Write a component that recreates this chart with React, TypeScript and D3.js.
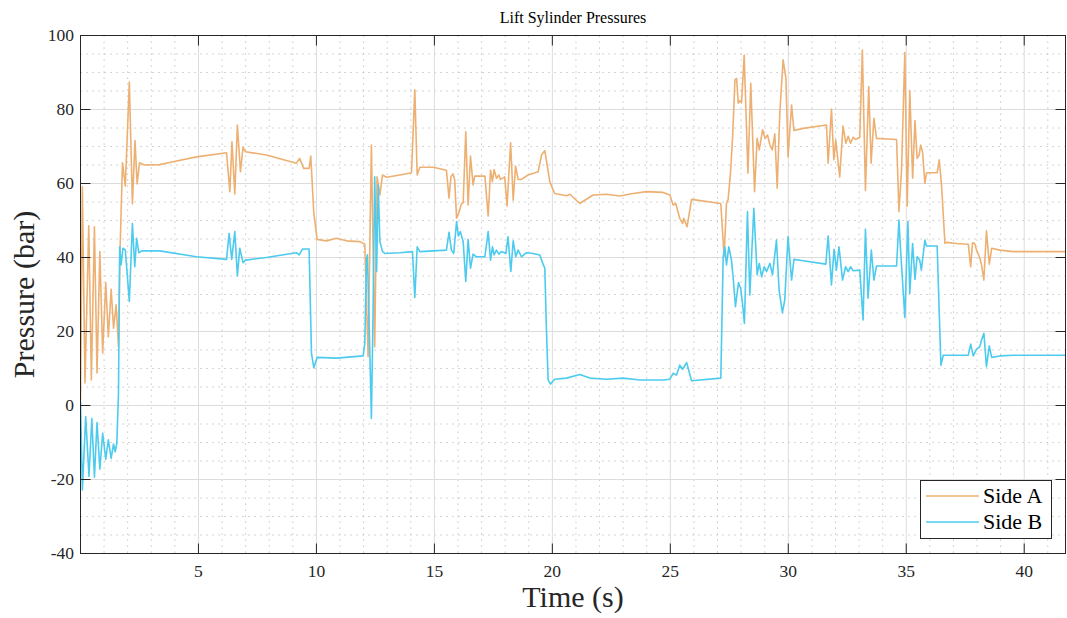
import * as d3 from 'd3';

// time (s) / pressure (bar) keypoints
const timeA = [0, 0.08, 0.19, 0.35, 0.46, 0.59, 0.7, 0.82, 0.94, 1.07, 1.18, 1.3, 1.4, 1.51, 1.61, 1.68, 1.78, 1.9, 2.07, 2.2, 2.31, 2.4, 2.5, 2.71, 3.36, 3.92, 4.92, 6.19, 6.33, 6.42, 6.54, 6.65, 6.78, 6.89, 6.99, 7.88, 9.15, 9.29, 9.46, 9.69, 9.76, 9.89, 10.03, 10.42, 10.85, 11.27, 11.84, 12.05, 12.19, 12.33, 12.47, 12.57, 12.69, 12.8, 12.97, 13.53, 14.03, 14.17, 14.27, 14.38, 14.95, 15.51, 15.62, 15.7, 15.79, 15.86, 15.94, 16.05, 16.15, 16.22, 16.33, 16.43, 16.53, 16.64, 16.71, 17.14, 17.28, 17.38, 17.46, 17.53, 17.63, 17.73, 17.8, 17.98, 18.08, 18.23, 18.34, 18.44, 18.55, 18.69, 18.97, 19.4, 19.54, 19.68, 19.78, 19.89, 20.1, 20.6, 20.74, 21.16, 21.73, 22.29, 22.86, 23.42, 23.99, 24.69, 24.98, 25.12, 25.23, 25.4, 25.52, 25.57, 25.71, 25.9, 27.14, 27.28, 27.38, 27.45, 27.55, 27.64, 27.74, 27.81, 27.88, 27.95, 28.02, 28.13, 28.29, 28.41, 28.57, 28.68, 28.77, 28.91, 29.02, 29.12, 29.22, 29.32, 29.43, 29.53, 29.64, 29.78, 29.9, 29.99, 30.14, 30.24, 30.63, 31.62, 31.69, 31.83, 31.93, 32.01, 32.18, 32.32, 32.44, 32.54, 32.64, 32.75, 32.85, 33.03, 33.14, 33.27, 33.41, 33.51, 33.63, 33.74, 34.59, 34.69, 34.8, 34.94, 35.04, 35.15, 35.27, 35.37, 35.46, 35.55, 35.61, 35.69, 35.79, 35.86, 36.31, 36.4, 36.5, 36.64, 36.71, 37.13, 37.63, 37.73, 37.81, 37.9, 37.98, 38.12, 38.19, 38.29, 38.4, 38.52, 38.62, 38.97, 39.53, 40.95, 41.75];
const sideA = [1.5, 59.1, 6.1, 48.6, 6.9, 48.3, 8.8, 41.6, 14.2, 33.2, 18.5, 31.4, 20.9, 27.2, 15.9, 42.9, 65.6, 59.3, 87.4, 54.5, 71.6, 59.9, 65.6, 65, 65.1, 65.9, 67.2, 68.3, 57.8, 71.3, 57.2, 75.8, 63.2, 69.8, 68.6, 67.7, 65.5, 66.8, 64.1, 64.1, 67.4, 51.9, 44.9, 44.5, 45.2, 44.5, 44.3, 43.6, 13.2, 70.4, 15.9, 61.8, 56.9, 62.3, 61.7, 62.3, 62.9, 85.3, 62.3, 64.4, 64.4, 63.6, 56, 61.8, 62.6, 61, 50.6, 52.4, 54.6, 54.8, 74, 54.2, 67.4, 59.6, 62, 62, 51.2, 63.6, 60.5, 63.8, 61.4, 62.3, 61.1, 61.8, 53.9, 71, 55.5, 64.7, 61.1, 61.1, 62.3, 63.2, 67.7, 68.9, 65, 60.5, 57.3, 56.7, 57.1, 54.6, 56.9, 57.1, 56.6, 57.3, 57.8, 57.6, 56.9, 54.2, 54.6, 50.6, 49.2, 50.6, 48.3, 55.7, 54.6, 40.2, 54.6, 55.7, 62.8, 72.7, 88, 88.4, 81.7, 82.4, 81.8, 94.7, 62.8, 87.1, 57.8, 72.2, 69.1, 74.5, 72.2, 73.1, 70.4, 69.1, 73.4, 58.7, 79, 93.4, 88.4, 67.2, 81.2, 74.3, 74.9, 75.8, 65.5, 80.1, 66.4, 71.8, 61.8, 75.5, 70.9, 72.8, 70.9, 72.5, 71.9, 72.5, 96.1, 58.1, 86.2, 65.5, 77.6, 72.2, 71.9, 52.4, 63.6, 95.4, 53.9, 85.1, 61.4, 77, 66.8, 67.7, 70.4, 68.6, 60, 62.9, 62.9, 66.4, 59.1, 43.8, 44.1, 43.8, 43.6, 37.5, 44, 43.8, 42, 39.8, 38, 33.9, 47.2, 38.2, 42.5, 42, 41.6, 41.6, 41.6];

const timeB = [0, 0.08, 0.22, 0.36, 0.48, 0.59, 0.7, 0.82, 0.94, 1.07, 1.18, 1.3, 1.4, 1.47, 1.54, 1.61, 1.66, 1.72, 1.8, 1.9, 2.07, 2.2, 2.3, 2.38, 2.47, 2.6, 3.36, 4.91, 6.19, 6.3, 6.41, 6.54, 6.65, 6.75, 6.89, 6.99, 7.88, 9.15, 9.27, 9.41, 9.69, 9.79, 9.89, 10.03, 10.85, 11.98, 12.05, 12.12, 12.16, 12.23, 12.33, 12.4, 12.47, 12.55, 12.62, 12.69, 12.8, 12.9, 13.53, 14.07, 14.17, 14.27, 14.38, 14.95, 15.51, 15.62, 15.72, 15.82, 15.94, 16.02, 16.1, 16.22, 16.33, 16.43, 16.53, 16.64, 16.78, 17.14, 17.28, 17.38, 17.46, 17.53, 17.63, 17.73, 17.84, 18.03, 18.12, 18.24, 18.34, 18.45, 18.55, 18.69, 18.9, 19.18, 19.47, 19.58, 19.68, 19.75, 19.82, 19.92, 20.1, 20.6, 21.16, 21.59, 22.29, 23.0, 23.71, 24.69, 24.98, 25.12, 25.26, 25.4, 25.52, 25.69, 25.76, 25.9, 27.14, 27.24, 27.31, 27.38, 27.48, 27.59, 27.66, 27.76, 27.89, 27.98, 28.06, 28.14, 28.27, 28.37, 28.54, 28.68, 28.77, 28.87, 28.98, 29.08, 29.22, 29.33, 29.5, 29.61, 29.75, 29.85, 29.99, 30.14, 30.24, 30.63, 31.59, 31.69, 31.83, 31.94, 32.04, 32.15, 32.3, 32.43, 32.54, 32.64, 32.75, 33.03, 33.17, 33.27, 33.38, 33.52, 33.63, 33.74, 34.59, 34.69, 34.76, 34.94, 35.07, 35.15, 35.27, 35.37, 35.46, 35.57, 35.64, 35.79, 35.86, 36.31, 36.4, 36.47, 36.57, 37.13, 37.63, 37.73, 37.84, 37.98, 38.12, 38.19, 38.29, 38.4, 38.52, 38.62, 38.97, 39.53, 41.75];
const sideB = [1, -22.8, -3, -19.2, -3.5, -19.4, -4.6, -17.2, -7.5, -14.5, -9.3, -14.3, -10.4, -12.5, -10.2, 3.3, 42.9, 38, 42.5, 42, 28.1, 49.2, 37.5, 45.2, 41.3, 41.8, 41.8, 40.2, 39.5, 46.5, 39.5, 47, 35, 42.5, 38.6, 39.3, 40, 41.3, 40.7, 42.3, 42.3, 14.1, 10.2, 13, 12.8, 13.4, 16.8, 39.3, 40.7, 23.1, -3.5, 24.9, 61.8, 36.2, 59.6, 44.3, 41.6, 41.1, 41.3, 41.6, 29.2, 42.9, 41.6, 41.8, 42, 46.8, 42, 41.1, 49.7, 45.8, 47, 44.3, 33.5, 44.9, 37.1, 40.9, 40.2, 40.2, 47, 39.3, 42.9, 40.7, 42, 40.9, 41.6, 41.1, 45.6, 36.2, 44.5, 40.2, 42, 40.2, 41.3, 41.1, 40.7, 38.6, 37.1, 20.4, 6.9, 5.8, 7.1, 7.4, 8.4, 7.4, 7.1, 7.4, 6.9, 6.9, 7.1, 8.7, 8.2, 10.9, 9.8, 11.6, 10, 6.7, 7.4, 40.2, 42.9, 38, 42.9, 39.3, 34.8, 26.7, 33.2, 31.7, 27.6, 22.2, 52.4, 29.9, 53.3, 35.3, 38.4, 34.8, 37.5, 36.2, 38.4, 35.3, 44.7, 31.2, 25.1, 28.5, 45.6, 33.9, 39.5, 39.1, 38.2, 45.8, 32.6, 42.2, 36.6, 42.9, 33.9, 37.5, 36.2, 37.5, 36.4, 36.6, 23.1, 47.6, 29, 42, 33.9, 37.7, 37.7, 50.1, 42, 23.8, 49.7, 30.3, 43.8, 34.1, 40.2, 39.3, 36.6, 44.7, 43.1, 43.1, 24.9, 10.9, 13.6, 13.6, 13.6, 16.6, 13.4, 15.2, 15.9, 17.7, 19.5, 10.5, 16.1, 13, 13.4, 13.6, 13.6];

const xTicks = [5, 10, 15, 20, 25, 30, 35, 40];
const yTicks = [-40, -20, 0, 20, 40, 60, 80, 100];
const seriesNames = ['Side A', 'Side B'];
const seriesColors = ['#EDB072', '#4CCBEF'];

const W = 1067;
const H = 618;
const left = 80.5;
const right = 1065.5;
const top = 35.5;
const bottom = 553.5;
const font = '"Liberation Serif", "Times New Roman", serif';

export default function App() {
  const x = d3.scaleLinear().domain([0, 41.75]).range([left, right]);
  const y = d3.scaleLinear().domain([-40, 100]).range([bottom, top]);

  const xMinor = d3.range(1, 42).filter((v) => v % 5 !== 0);
  const yMinor = d3.range(-35, 100, 5).filter((v) => v % 20 !== 0);

  const line = d3
    .line<[number, number]>()
    .x((d) => x(d[0]))
    .y((d) => y(d[1]));

  const dataA = timeA.map((t, i) => [t, sideA[i]] as [number, number]);
  const dataB = timeB.map((t, i) => [t, sideB[i]] as [number, number]);

  return (
    <svg
      width={W}
      height={H}
      style={{ position: 'absolute', left: 0, top: 0, background: '#fff' }}
      fontFamily={font}
    >
      <rect x={0} y={0} width={W} height={H} fill='#fff' />
      <defs>
        <clipPath id='plot'>
          <rect x={left} y={top} width={right - left} height={bottom - top} />
        </clipPath>
      </defs>

      {/* minor grid */}
      <g stroke='#b8b8b8' strokeWidth={1} strokeDasharray='1.2,4.8'>
        {xMinor.map((v) => (
          <line key={'xm' + v} x1={x(v)} x2={x(v)} y1={top} y2={bottom} />
        ))}
        {yMinor.map((v) => (
          <line key={'ym' + v} x1={left} x2={right} y1={y(v)} y2={y(v)} />
        ))}
      </g>
      {/* major grid */}
      <g stroke='#dcdcdc' strokeWidth={1}>
        {xTicks.map((v) => (
          <line key={'xg' + v} x1={x(v)} x2={x(v)} y1={top} y2={bottom} />
        ))}
        {yTicks.map((v) => (
          <line key={'yg' + v} x1={left} x2={right} y1={y(v)} y2={y(v)} />
        ))}
      </g>

      <g clipPath='url(#plot)' fill='none' strokeWidth={1.6} strokeLinejoin='round'>
        <path d={line(dataA) ?? ''} stroke={seriesColors[0]} />
        <path d={line(dataB) ?? ''} stroke={seriesColors[1]} />
      </g>

      {/* box and ticks */}
      <rect x={left} y={top} width={right - left} height={bottom - top} fill='none' stroke='#262626' strokeWidth={1} />
      <g stroke='#262626' strokeWidth={1}>
        {xTicks.map((v) => (
          <g key={'xt' + v}>
            <line x1={x(v)} x2={x(v)} y1={bottom} y2={bottom - 10} />
            <line x1={x(v)} x2={x(v)} y1={top} y2={top + 10} />
          </g>
        ))}
        {yTicks.map((v) => (
          <g key={'yt' + v}>
            <line x1={left} x2={left + 10} y1={y(v)} y2={y(v)} />
            <line x1={right} x2={right - 10} y1={y(v)} y2={y(v)} />
          </g>
        ))}
      </g>
      <g fill='#262626' fontSize={17.5}>
        {xTicks.map((v) => (
          <text key={'xl' + v} x={x(v)} y={577} textAnchor='middle'>
            {v}
          </text>
        ))}
        {yTicks.map((v) => (
          <text key={'yl' + v} x={74} y={y(v) + 5.5} textAnchor='end'>
            {v}
          </text>
        ))}
      </g>

      <text x={(left + right) / 2} y={23} textAnchor='middle' fontSize={16} fill='#000'>
        Lift Sylinder Pressures
      </text>
      <text x={(left + right) / 2} y={607} textAnchor='middle' fontSize={30} fill='#262626'>
        Time (s)
      </text>
      <text
        transform={`translate(34, ${(top + bottom) / 2}) rotate(-90)`}
        textAnchor='middle'
        fontSize={30}
        fill='#262626'
      >
        Pressure (bar)
      </text>

      {/* legend */}
      <g>
        <rect x={920.5} y={480.5} width={131} height={58} fill='#fff' stroke='#262626' strokeWidth={1} />
        {seriesNames.map((name, i) => (
          <g key={name}>
            <line x1={926} x2={979} y1={496 + i * 26} y2={496 + i * 26} stroke={seriesColors[i]} strokeWidth={1.6} />
            <text x={983} y={503 + i * 26} fontSize={22} fill='#000'>
              {name}
            </text>
          </g>
        ))}
      </g>
    </svg>
  );
}
